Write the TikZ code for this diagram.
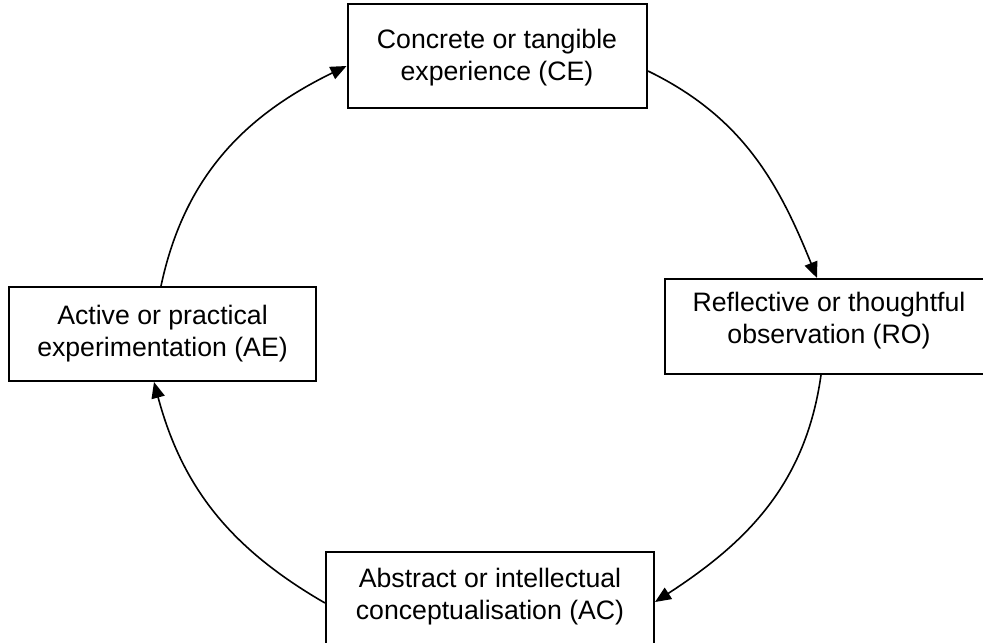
\documentclass[tikz,border=0pt]{standalone}
\usepackage{fontspec}
\setmainfont{Liberation Sans}
\usetikzlibrary{arrows.meta,fit,calc}
\begin{document}
\begin{tikzpicture}[x=0.75pt,y=-0.75pt,
  box/.style={draw=black, line width=1.5pt, inner sep=0pt, fill=white},
  boxtext/.style={anchor=north, align=center, inner sep=0pt,
    font=\fontsize{20}{24}\selectfont},
  flow/.style={line width=1.2pt, -{Triangle[length=12pt,width=10pt]}}]
\useasboundingbox (0,0) rectangle (983,643);
\clip (0,0) rectangle (983,643);

% the four stages of the cycle
\node[box, fit={(347.5,4) (647,108)}] (CE) {};
\node[boxtext] (CEt) at (497,29) {Concrete or tangible\\experience (CE)};

\node[box, fit={(665,279) (993,374)}] (RO) {};
\node[boxtext] (ROt) at (829,292) {Reflective or thoughtful\\observation (RO)};

\node[box, fit={(326,552) (654,655)}] (AC) {};
\node[boxtext] (ACt) at (490,568) {Abstract or intellectual\\conceptualisation (AC)};

\node[box, fit={(9,287) (316,381)}] (AE) {};
\node[boxtext] (AEt) at (162.5,305) {Active or practical\\experimentation (AE)};

% curved arrows running clockwise
\draw[flow] ($(CE.north east)+(0,68)$) to[out=-26,in=112] ($(RO.north west)+(153,0)$);
\draw[flow] ($(RO.south west)+(157,0)$) to[out=-98,in=33] ($(AC.north east)+(0,51)$);
\draw[flow] ($(AC.north west)+(0,52)$) to[out=150,in=-75] ($(AE.south west)+(146,0)$);
\draw[flow] ($(AE.north west)+(153,0)$) to[out=78,in=206] ($(CE.north west)+(0,63)$);
\end{tikzpicture}
\end{document}
